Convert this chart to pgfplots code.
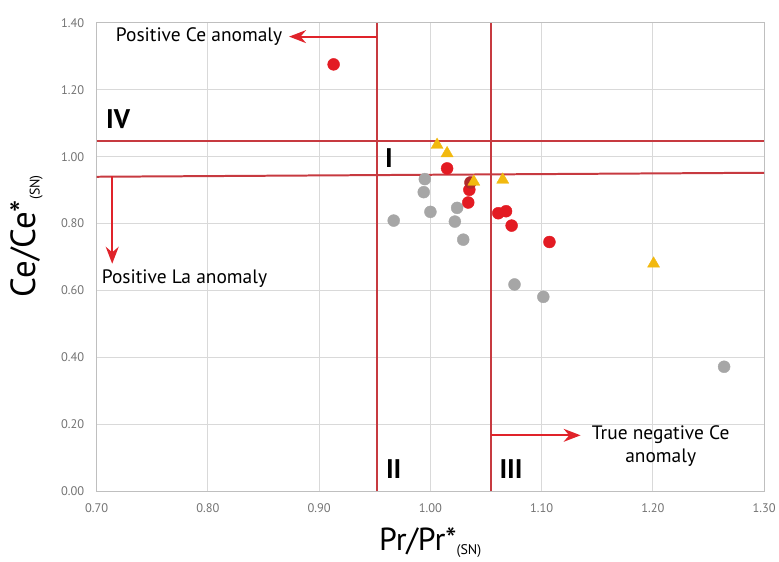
\documentclass[border=0pt]{standalone}
\usepackage{pgfplots}
\pgfplotsset{compat=1.18}
\usepackage{fontspec}
\setmainfont{PT Sans}
\usetikzlibrary{arrows.meta}

\definecolor{linered}{HTML}{C73A40}
\definecolor{arrowred}{HTML}{E0232A}
\definecolor{ptred}{HTML}{E31B23}
\definecolor{ptdark}{HTML}{B02A2A}
\definecolor{ptgray}{HTML}{A6A6A6}
\definecolor{ptyellow}{HTML}{F2B90F}

\begin{document}
\begin{tikzpicture}
\begin{axis}[
  scale only axis, width=670pt, height=470pt,
  xmin=0.7, xmax=1.3, ymin=0, ymax=1.4,
  xtick={0.7,0.8,0.9,1.0,1.1,1.2,1.3},
  ytick={0,0.2,0.4,0.6,0.8,1.0,1.2,1.4},
  grid=major,
  grid style={draw=black!15, line width=0.9pt},
  axis line style={draw=black!25, line width=0.9pt},
  major tick length=0pt,
  tick label style={text=black!55, font=\fontsize{12.5}{14}\selectfont},
  xticklabel style={yshift=-9pt},
  yticklabel style={xshift=-9pt},
  /pgf/number format/.cd, fixed, fixed zerofill, precision=2, assume math mode=true,
  /pgfplots/.cd,
  clip=false,
]

% field boundaries
\addplot[draw=linered, line width=2pt, no marks] coordinates {(0.952,0) (0.952,1.4)};
\addplot[draw=linered, line width=2pt, no marks] coordinates {(1.0545,0) (1.0545,1.4)};
\addplot[draw=linered, line width=2pt, no marks] coordinates {(0.7,1.047) (1.3,1.047)};
\addplot[draw=linered, line width=2pt, no marks] coordinates {(0.7,0.940) (1.3,0.952)};

% arrows
\draw[arrowred, line width=2pt, -{Stealth[length=17pt,width=13pt]}] (axis cs:0.952,1.359) -- (axis cs:0.873,1.359);
\draw[arrowred, line width=2pt, -{Stealth[length=17pt,width=13pt]}] (axis cs:0.714,0.941) -- (axis cs:0.714,0.680);
\draw[arrowred, line width=2pt, -{Stealth[length=17pt,width=13pt]}] (axis cs:1.0545,0.167) -- (axis cs:1.135,0.167);

% annotations
\node[anchor=east, inner sep=0pt, font=\fontsize{19.5}{23}\selectfont] at (axis cs:0.867,1.359) {Positive Ce anomaly};
\node[anchor=west, inner sep=0pt, font=\fontsize{19.5}{23}\selectfont] at (axis cs:0.7045,0.635) {Positive La anomaly};
\node[align=center, inner sep=0pt, font=\fontsize{19.5}{23}\selectfont] at (axis cs:1.207,0.1335) {True negative Ce\\anomaly};

\node[font=\fontsize{27}{30}\selectfont\bfseries] at (axis cs:0.7193,1.1126) {IV};
\node[font=\fontsize{27}{30}\selectfont\bfseries] at (axis cs:0.9628,0.997) {I};
\node[font=\fontsize{27}{30}\selectfont\bfseries] at (axis cs:0.967,0.0664) {II};
\node[font=\fontsize{27}{30}\selectfont\bfseries] at (axis cs:1.0725,0.0664) {III};

% samples
\addplot[only marks, mark=*, mark size=6pt, draw=ptgray, fill=ptgray] coordinates {
  (0.995,0.933) (0.994,0.894) (1.000,0.835) (0.967,0.809) (1.024,0.847)
  (1.022,0.806) (1.0295,0.752) (1.0756,0.618) (1.1015,0.581) (1.264,0.372)
};
\addplot[only marks, mark=*, mark size=6pt, draw=ptred, fill=ptred] coordinates {
  (0.913,1.276) (1.015,0.965) (1.035,0.901) (1.034,0.863) (1.061,0.831)
  (1.068,0.837) (1.073,0.794) (1.107,0.745)
};
\addplot[only marks, mark=*, mark size=6pt, draw=ptdark, fill=ptdark] coordinates {
  (1.036,0.923)
};
\addplot[only marks, mark=triangle*, mark size=7pt, draw=ptyellow, fill=ptyellow] coordinates {
  (1.006,1.035) (1.015,1.010) (1.039,0.925) (1.065,0.931) (1.2006,0.680)
};

% axis titles
\node[rotate=90, font=\fontsize{35}{38}\selectfont] at ([xshift=-70pt]axis cs:0.7,0.763) {Ce/Ce*\textsubscript{\fontsize{14}{16}\selectfont (SN)}};
\node[font=\fontsize{32}{36}\selectfont] at ([yshift=-52pt]axis cs:1.0,0) {Pr/Pr*\textsubscript{\fontsize{14}{16}\selectfont (SN)}};
\end{axis}
\path ([shift={(-97pt,-70pt)}]current axis.south west) rectangle ([shift={(12pt,23pt)}]current axis.north east);
\end{tikzpicture}
\end{document}
